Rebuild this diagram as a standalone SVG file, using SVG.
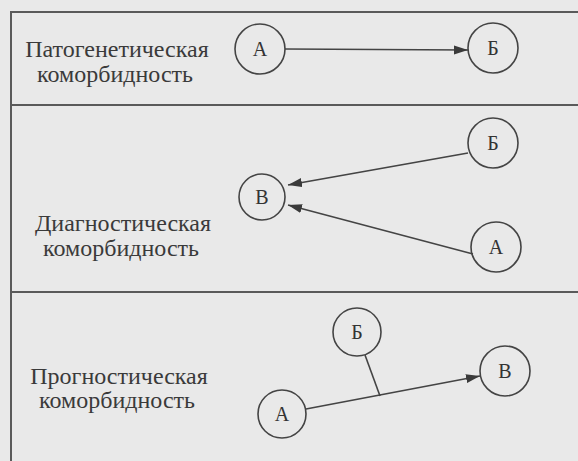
<svg xmlns="http://www.w3.org/2000/svg" width="578" height="461" viewBox="0 0 578 461">
<defs>
<marker id="ah" markerWidth="15" markerHeight="10" refX="14" refY="5" orient="auto" markerUnits="userSpaceOnUse">
<path d="M0,0.5 L14,5 L0,9.5 z" fill="#3a3a3a"/>
</marker>
<style>
.frame{stroke:#5a5a5a;stroke-width:2;fill:none}
.node circle{fill:none;stroke:#444;stroke-width:1.6}
.node text{font-family:"Liberation Serif","DejaVu Serif",serif;font-size:20px;fill:#333;text-anchor:middle}
.label text{font-family:"Liberation Serif","DejaVu Serif",serif;font-size:24px;fill:#3a3a3a;text-anchor:middle}
.conn line{stroke:#444;stroke-width:1.6}
</style>
</defs>
<rect x="0" y="0" width="578" height="461" fill="#e9e9e9"/>
<g id="frame" class="frame">
<line x1="10" y1="12" x2="578" y2="12"/>
<line x1="11" y1="11" x2="11" y2="461"/>
<line x1="10" y1="105" x2="578" y2="105"/>
<line x1="10" y1="292" x2="578" y2="292"/>
</g>
<g id="label-pathogenetic" class="label"><text x="117" y="57">Патогенетическая</text><text x="115" y="82">коморбидность</text></g>
<g id="label-diagnostic" class="label"><text x="123" y="231">Диагностическая</text><text x="121" y="256">коморбидность</text></g>
<g id="label-prognostic" class="label"><text x="119" y="384">Прогностическая</text><text x="117" y="408">коморбидность</text></g>
<g id="p-A" class="node"><circle cx="260" cy="49" r="25"/><text x="260" y="56">А</text></g>
<g id="p-B" class="node"><circle cx="493" cy="48" r="25"/><text x="493" y="55">Б</text></g>
<g id="d-B" class="node"><circle cx="493" cy="143" r="25"/><text x="493" y="150">Б</text></g>
<g id="d-V" class="node"><circle cx="262" cy="197" r="23"/><text x="262" y="204">В</text></g>
<g id="d-A" class="node"><circle cx="496" cy="247" r="25"/><text x="496" y="254">А</text></g>
<g id="g-B" class="node"><circle cx="357" cy="332" r="24"/><text x="357" y="339">Б</text></g>
<g id="g-V" class="node"><circle cx="505" cy="371" r="25"/><text x="505" y="378">В</text></g>
<g id="g-A" class="node"><circle cx="282" cy="414" r="24"/><text x="282" y="421">А</text></g>
<g id="connectors" class="conn">
<line x1="285" y1="49" x2="468" y2="50" marker-end="url(#ah)"/>
<line x1="468" y1="153" x2="288" y2="185" marker-end="url(#ah)"/>
<line x1="473" y1="254" x2="288" y2="205" marker-end="url(#ah)"/>
<line x1="306" y1="409" x2="480" y2="376" marker-end="url(#ah)"/>
<line x1="365" y1="355" x2="380" y2="396"/>
</g>
</svg>
